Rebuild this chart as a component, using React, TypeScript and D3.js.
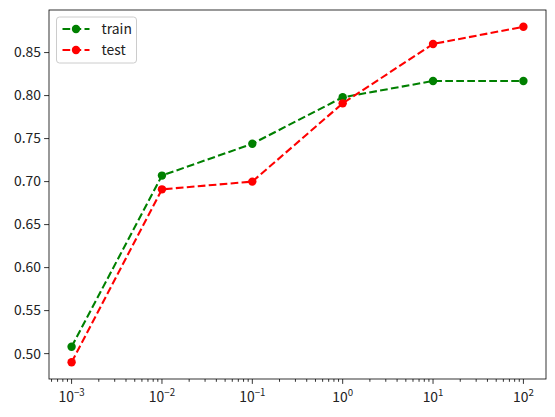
import React, { useEffect, useRef } from 'react';
import * as d3 from 'd3';

const cValues = [0.001, 0.01, 0.1, 1, 10, 100];
const exponents = ['\u22123', '\u22122', '\u22121', '0', '1', '2'];
const trainScores = [0.508, 0.707, 0.744, 0.798, 0.817, 0.817];
const testScores = [0.49, 0.691, 0.7, 0.791, 0.86, 0.88];
const yTicks = [0.5, 0.55, 0.6, 0.65, 0.7, 0.75, 0.8, 0.85];

const series = [
  { name: 'train', color: 'green', values: trainScores },
  { name: 'test', color: 'red', values: testScores },
];

const FONT = '"Noto Sans CJK KR", "Noto Sans", sans-serif';

export default function App() {
  const svgRef = useRef<SVGSVGElement>(null);

  useEffect(() => {
    if (!svgRef.current) return;
    const svg = d3.select(svgRef.current);
    svg.selectAll('*').remove();

    const width = 555;
    const height = 417;
    const margin = { top: 10, right: 9, bottom: 38, left: 49 };
    const innerWidth = width - margin.left - margin.right;
    const innerHeight = height - margin.top - margin.bottom;

    const xScale = d3.scaleLog()
      .domain([Math.pow(10, -3.25), Math.pow(10, 2.25)])
      .range([0, innerWidth]);

    const allVals = trainScores.concat(testScores);
    const yMin = d3.min(allVals) as number;
    const yMax = d3.max(allVals) as number;
    const pad = (yMax - yMin) * 0.05;
    const yScale = d3.scaleLinear()
      .domain([yMin - pad, yMax + pad])
      .range([innerHeight, 0]);

    svg.append('rect').attr('width', width).attr('height', height).attr('fill', '#fff');

    const g = svg.append('g')
      .attr('transform', `translate(${margin.left},${margin.top})`);

    // minor x ticks
    const minor: number[] = [];
    for (let e = -4; e <= 2; e++) {
      for (let m = 2; m <= 9; m++) {
        const v = m * Math.pow(10, e);
        const px = xScale(v);
        if (px >= 0 && px <= innerWidth) minor.push(v);
      }
    }
    g.selectAll('line.minor')
      .data(minor)
      .enter()
      .append('line')
      .attr('x1', (d: number) => xScale(d))
      .attr('x2', (d: number) => xScale(d))
      .attr('y1', innerHeight)
      .attr('y2', innerHeight + 2.8)
      .attr('stroke', '#000')
      .attr('stroke-width', 0.8);

    // major x ticks + labels
    const xt = g.selectAll('g.xtick')
      .data(cValues)
      .enter()
      .append('g')
      .attr('transform', (d: number) => `translate(${xScale(d)},${innerHeight})`);
    xt.append('line').attr('y2', 4.9).attr('stroke', '#000').attr('stroke-width', 0.8);
    const xl = xt.append('text')
      .attr('y', 23)
      .attr('text-anchor', 'middle')
      .attr('font-family', FONT)
      .attr('font-size', '13.9px')
      .attr('fill', '#222');
    xl.append('tspan').text('10');
    xl.append('tspan')
      .attr('dy', -6)
      .attr('font-size', '9.7px')
      .text((_d: number, i: number) => exponents[i]);

    // y ticks
    const yt = g.selectAll('g.ytick')
      .data(yTicks)
      .enter()
      .append('g')
      .attr('transform', (d: number) => `translate(0,${yScale(d)})`);
    yt.append('line').attr('x2', -4.9).attr('stroke', '#000').attr('stroke-width', 0.8);
    yt.append('text')
      .attr('x', -8)
      .attr('dy', '0.35em')
      .attr('text-anchor', 'end')
      .attr('font-family', FONT)
      .attr('font-size', '13.9px')
      .attr('fill', '#222')
      .text((d: number) => d.toFixed(2));

    const line = d3.line<number>()
      .x((_d: number, i: number) => xScale(cValues[i]))
      .y((d: number) => yScale(d));

    series.forEach((s) => {
      g.append('path')
        .datum(s.values)
        .attr('d', line)
        .attr('fill', 'none')
        .attr('stroke', s.color)
        .attr('stroke-width', 2.08)
        .attr('stroke-dasharray', '7.7,3.3');
      g.selectAll(null)
        .data(s.values)
        .enter()
        .append('circle')
        .attr('cx', (_d: number, i: number) => xScale(cValues[i]))
        .attr('cy', (d: number) => yScale(d))
        .attr('r', 4.2)
        .attr('fill', s.color);
    });

    // frame
    g.append('rect')
      .attr('width', innerWidth)
      .attr('height', innerHeight)
      .attr('fill', 'none')
      .attr('stroke', '#000')
      .attr('stroke-width', 0.8);

    // legend
    const lg = g.append('g').attr('transform', 'translate(7.5,7)');
    lg.append('rect')
      .attr('width', 80)
      .attr('height', 46)
      .attr('rx', 3)
      .attr('fill', '#fff')
      .attr('fill-opacity', 0.8)
      .attr('stroke', '#ccc')
      .attr('stroke-width', 1);
    series.forEach((s, i) => {
      const ly = 12 + i * 21;
      lg.append('line')
        .attr('x1', 6)
        .attr('x2', 33)
        .attr('y1', ly)
        .attr('y2', ly)
        .attr('stroke', s.color)
        .attr('stroke-width', 2.08)
        .attr('stroke-dasharray', '7.7,3.3');
      lg.append('circle').attr('cx', 19.5).attr('cy', ly).attr('r', 4.2).attr('fill', s.color);
      lg.append('text')
        .attr('x', 45)
        .attr('y', ly)
        .attr('dy', '0.35em')
        .attr('font-family', FONT)
        .attr('font-size', '13.9px')
        .attr('fill', '#222')
        .text(s.name);
    });
  }, []);

  return (
    <svg
      ref={svgRef}
      width={555}
      height={417}
      style={{ display: 'block', position: 'absolute', left: 0, top: 0 }}
    />
  );
}
